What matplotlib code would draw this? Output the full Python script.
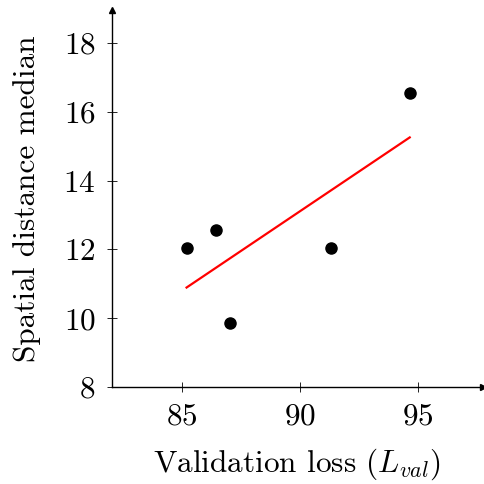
import numpy as np
import matplotlib
matplotlib.use('Agg')
import matplotlib.pyplot as plt

# valeurs
val_loss = [85.2, 86.45, 87.05, 91.3, 94.65]
dist_median = [12.05, 12.55, 9.87, 12.05, 16.55]

plt.rcParams['font.family'] = 'serif'
plt.rcParams['font.serif'] = ['cmr10']
plt.rcParams['mathtext.fontset'] = 'cm'
plt.rcParams['axes.formatter.use_mathtext'] = True

fig = plt.figure(figsize=(4.84, 4.84), dpi=100)
ax = fig.add_axes([0.2308, 0.2004, 0.767, 0.779])

ax.scatter(val_loss, dist_median, s=64, color='black', zorder=3)

# droite de regression
a, b = np.polyfit(val_loss, dist_median, 1)
xs = np.array([min(val_loss), max(val_loss)])
ax.plot(xs, a * xs + b, color='red', lw=1.6)

ax.set_xlim(82.03, 97.75)
ax.set_ylim(8, 18.96)
ax.set_xticks([85, 90, 95])
ax.set_yticks([8, 10, 12, 14, 16, 18])

ax.spines['top'].set_visible(False)
ax.spines['right'].set_visible(False)
ax.spines['left'].set_linewidth(1.0)
ax.spines['bottom'].set_linewidth(1.0)
ax.tick_params(direction='inout', length=7, width=0.6, labelsize=22.5, pad=8)

# fleches au bout des axes
ax.plot(1, 0, '>k', transform=ax.transAxes, clip_on=False, markersize=5)
ax.plot(0, 1, '^k', transform=ax.transAxes, clip_on=False, markersize=5)

ax.set_xlabel('Validation loss ($L_{val}$)', fontsize=22.5, labelpad=11)
ax.set_ylabel('Spatial distance median', fontsize=22.5, labelpad=16)

plt.savefig('out.png', dpi=100)
